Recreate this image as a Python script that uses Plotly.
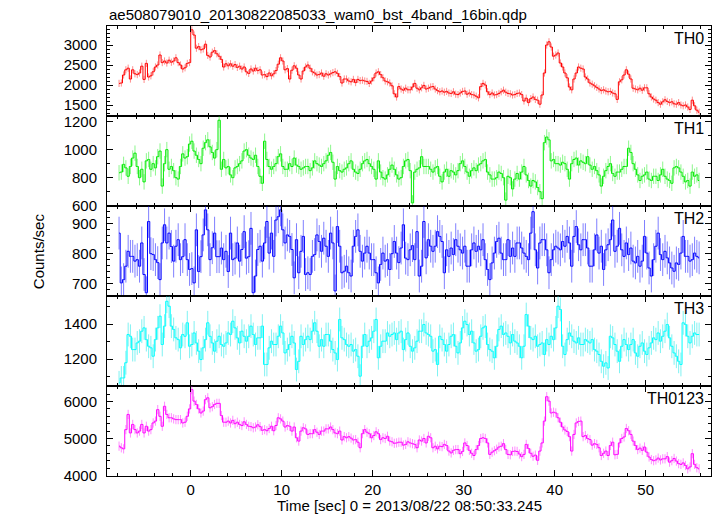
import numpy as np
import plotly.graph_objects as go

# ---------------- data ----------------
T_START = -7.875   # centre of first 0.25 s bin (sec)
BIN = 0.25         # bin width (sec)

PANEL_NAMES = ["TH0", "TH1", "TH2", "TH3", "TH0123"]

TH0 = [
    2040, 2050, 2250, 2380, 2420, 2150, 2380, 2280, 2260, 2300, 2470, 2140,
    2540, 2200, 2230, 2330, 2450, 2500, 2750, 2560, 2600, 2550, 2620, 2570,
    2600, 2680, 2560, 2500, 2400, 2430, 2540, 2560, 3380, 3250, 2920, 2960,
    2880, 2900, 3020, 2740, 2700, 2820, 2860, 2780, 2720, 2640, 2450, 2530,
    2480, 2530, 2470, 2510, 2440, 2470, 2400, 2450, 2330, 2290, 2400, 2350,
    2420, 2360, 2380, 2250, 2260, 2210, 2300, 2230, 2280, 2360, 2520, 2680,
    2600, 2380, 2410, 2150, 2370, 2480, 2420, 2250, 2150, 2350, 2450, 2500,
    2420, 2330, 2300, 2250, 2260, 2300, 2220, 2280, 2250, 2280, 2310, 2330,
    2290, 2210, 2050, 2150, 2150, 2100, 2080, 2140, 2060, 2140, 2110, 2120,
    2100, 2090, 2040, 2100, 2180, 2300, 2330, 2260, 2180, 2100, 2080, 2050,
    1980, 1780, 1700, 1960, 1900, 1870, 1920, 1880, 1880, 1950, 2040, 1920,
    1880, 1930, 1990, 1900, 1920, 1950, 1960, 1900, 1860, 1830, 1850, 1820,
    1840, 1800, 1790, 1830, 1770, 1760, 1800, 1840, 1850, 1770, 1800, 1760,
    1750, 1720, 1680, 1960, 2040, 2000, 1830, 1760, 1800, 1750, 1760, 1790,
    1830, 1870, 1820, 1790, 1780, 1750, 1760, 1790, 1800, 1760, 1600, 1670,
    1560, 1660, 1700, 1640, 1620, 1520, 1750, 2300, 3000, 3080, 2950, 2720,
    2750, 2800, 2550, 2450, 2300, 2180, 1950, 1880, 2150, 2300, 2450, 2420,
    2400, 2200, 2150, 2050, 2020, 1980, 1940, 1900, 1860, 1880, 1850, 1830,
    1840, 1800, 1780, 1640, 2080, 2130, 2250, 2380, 2270, 2150, 1920, 1900,
    1880, 1920, 1870, 1930, 1930, 1780, 1700, 1650, 1620, 1560, 1520, 1580,
    1630, 1590, 1560, 1580, 1530, 1520, 1560, 1500, 1480, 1500, 1450, 1390,
    1620, 1480, 1370, 1320,
]

TH1 = [
    835, 840, 895, 870, 810, 880, 940, 975, 880, 800, 860, 770,
    920, 930, 860, 900, 870, 950, 990, 740, 900, 1000, 860, 880,
    850, 800, 790, 880, 970, 940, 950, 1040, 1060, 990, 960, 930,
    900, 1010, 1050, 1070, 1020, 980, 940, 1000, 1210, 860, 930, 870,
    880, 820, 800, 870, 880, 900, 920, 990, 1000, 960, 940, 930,
    960, 880, 810, 760, 1060, 930, 880, 860, 880, 900, 950, 970,
    880, 860, 860, 900, 880, 940, 890, 880, 860, 870, 880, 880,
    850, 870, 920, 900, 890, 880, 900, 920, 960, 980, 910, 790,
    880, 850, 840, 860, 870, 900, 920, 860, 840, 830, 860, 900,
    920, 930, 900, 880, 860, 790, 920, 840, 800, 790, 820, 860,
    890, 860, 820, 790, 800, 880, 920, 930, 850, 620, 840, 860,
    870, 950, 880, 880, 880, 860, 840, 870, 880, 810, 770, 840,
    860, 810, 850, 840, 820, 850, 900, 920, 880, 840, 810, 850,
    870, 850, 890, 900, 920, 930, 840, 820, 790, 790, 800, 840,
    830, 800, 640, 810, 800, 720, 790, 830, 790, 840, 880, 820,
    780, 740, 780, 770, 730, 700, 650, 1050, 1090, 1070, 920, 930,
    900, 900, 890, 910, 900, 860, 790, 900, 930, 940, 890, 920,
    910, 900, 950, 890, 860, 880, 850, 820, 740, 810, 850, 880,
    900, 830, 810, 840, 840, 860, 880, 880, 1010, 980, 900, 860,
    820, 780, 810, 820, 840, 790, 780, 810, 810, 780, 820, 860,
    810, 790, 780, 760, 870, 880, 870, 840, 810, 770, 780, 740,
    840, 810, 820, 780,
]

TH2 = [
    869, 702, 713, 758, 808, 791, 791, 775, 780, 758,
    836, 730, 669, 908, 800, 797, 780, 770, 713, 836,
    897, 836, 869, 824, 775, 825, 847, 780, 790, 847,
    780, 747, 750, 702, 880, 740, 790, 863, 947, 880,
    780, 820, 869, 790, 790, 819, 780, 808, 740, 869,
    780, 785, 836, 775, 814, 874, 785, 790, 885, 669,
    725, 814, 825, 775, 836, 908, 802, 869, 791, 913,
    924, 947, 880, 836, 863, 858, 814, 719, 847, 736,
    808, 858, 730, 736, 730, 791, 797, 863, 841, 808,
    852, 825, 791, 869, 836, 675, 891, 825, 736, 741,
    758, 736, 725, 825, 858, 880, 808, 775, 802, 825,
    802, 780, 780, 736, 702, 764, 802, 775, 780, 747,
    800, 841, 802, 770, 819, 897, 785, 780,
    813, 827, 780, 874, 725, 758, 908, 786, 847, 825,
    808, 825, 874, 858, 841, 736, 813, 791, 819, 797,
    847, 825, 813, 802, 825, 758, 758, 813, 836, 808,
    825, 813, 847, 780, 747, 713, 769, 802, 841, 852,
    802, 780, 780, 847, 791, 819, 791, 836, 836, 819,
    802, 791, 780, 869, 941, 813, 752, 836, 847, 847,
    813, 736, 780, 813, 825, 819, 813, 841, 825, 858,
    836, 758, 858, 891, 830, 813, 847, 847, 819, 758,
    758, 813, 863, 802, 825, 747, 813, 830, 847, 913,
    808, 825, 885, 813, 791, 836, 797, 819, 775, 769,
    791, 758, 775, 858, 802, 752, 725, 780, 825, 869,
    797, 780, 808, 786, 769, 752, 741, 769, 764, 802,
    858, 791, 791, 775, 780, 802, 791, 786,
]

TH3 = [
    1065, 1093, 1093, 1180, 1341, 1331, 1255, 1255, 1293, 1303,
    1360, 1379, 1312, 1274, 1265, 1217, 1312, 1379, 1446, 1284,
    1389, 1531, 1503, 1389, 1370, 1322, 1312, 1265, 1341, 1331,
    1408, 1274, 1284, 1350, 1293, 1246, 1198, 1265, 1312, 1408,
    1331, 1293, 1246, 1303, 1331, 1284, 1274, 1293, 1350, 1341,
    1417, 1379, 1322, 1293, 1360, 1331, 1303, 1331, 1389, 1341,
    1284, 1322, 1322, 1389, 1170, 1170, 1265, 1303, 1284, 1284,
    1331, 1389, 1350, 1236, 1255, 1284, 1331, 1293, 1141, 1188,
    1331, 1284, 1312, 1331, 1312, 1360, 1408, 1360, 1274, 1312,
    1274, 1341, 1341, 1303, 1255, 1236, 1198, 1427, 1322, 1312,
    1284, 1274, 1284, 1246, 1255, 1217, 1103, 1274, 1341, 1274,
    1303, 1322, 1360, 1427, 1208, 1274, 1303, 1303, 1350, 1331,
    1341, 1350, 1312, 1350, 1360, 1255, 1312, 1350,
    1274, 1246, 1265, 1303, 1360, 1360, 1398, 1350, 1341, 1331,
    1246, 1255, 1170, 1331, 1312, 1284, 1246, 1284, 1331, 1341,
    1274, 1236, 1293, 1379, 1417, 1398, 1341, 1360, 1293, 1246,
    1255, 1331, 1379, 1389, 1284, 1255, 1246, 1208, 1274, 1370,
    1389, 1341, 1350, 1331, 1293, 1341, 1303, 1293, 1274, 1208,
    1274, 1455, 1389, 1322, 1312, 1331, 1274, 1284, 1293, 1227,
    1312, 1284, 1331, 1312, 1379, 1503, 1484, 1274, 1227, 1312,
    1350, 1331, 1303, 1293, 1322, 1284, 1284, 1312, 1303, 1293,
    1312, 1255, 1246, 1227, 1188, 1160, 1179, 1150, 1331, 1322,
    1284, 1246, 1188, 1274, 1312, 1284, 1255, 1284, 1312, 1236,
    1217, 1274, 1293, 1246, 1227, 1265, 1293, 1322, 1312, 1350,
    1303, 1331, 1360, 1398, 1322, 1274, 1236, 1217, 1188, 1170,
    1408, 1398, 1331, 1293, 1331, 1350, 1341, 1341,
]

TH0123 = [
    4793, 4748, 4720, 5240, 5650, 5150, 5380, 5240, 5150, 5200,
    5380, 5150, 5330, 5200, 5240, 5420, 5470, 5780, 5600, 5330,
    5870, 5650, 5560, 5560, 5530, 5510, 5510, 5510, 5420, 5440,
    5600, 5800, 6320, 6010, 5920, 5800, 5690, 5740, 6050, 6100,
    5830, 5860, 5920, 5950, 5950, 5620, 5440, 5440, 5470, 5420,
    5490, 5400, 5440, 5380, 5350, 5450, 5380, 5330, 5320, 5290,
    5310, 5370, 5320, 5220, 5240, 5210, 5270, 5330, 5210, 5350,
    5560, 5530, 5470, 5310, 5350, 5330, 5200, 5310, 5020, 4930,
    5200, 5290, 5260, 5110, 5130, 5130, 5240, 5170, 5110, 5200,
    5200, 5260, 5260, 5310, 5240, 5150, 5130, 5200, 4960, 5050,
    5020, 5050, 5010, 4960, 4970, 4900, 4750, 5130, 5240, 5170,
    5130, 5020, 5080, 5180, 5130, 4970, 5020, 5000, 5060, 4930,
    4910, 4870, 4880, 4900, 4900, 4820, 4840, 4910,
    4880, 4860, 4840, 4750, 4960, 4930, 5000, 4880, 5060, 5020,
    4750, 4790, 4720, 4790, 4780, 4840, 4810, 4660, 4610, 4680,
    4700, 4700, 4590, 4650, 4880, 4810, 4680, 4600, 4540, 4700,
    4810, 5000, 5020, 5000, 4880, 4570, 4630, 4670, 4710, 4770,
    4790, 4860, 4700, 4570, 4560, 4650, 4660, 4650, 4580, 4510,
    4570, 4840, 4730, 4600, 4520, 4550, 4410, 4660, 4880, 5470,
    6130, 6010, 5690, 5710, 5690, 5560, 5440, 5310, 5230, 5190,
    5050, 4660, 5110, 5420, 5460, 5470, 5050, 5080, 5000, 4970,
    4820, 4860, 4840, 4750, 4540, 4600, 4660, 4540, 4810, 4900,
    4560, 4570, 4880, 5000, 5040, 5270, 5210, 5110, 4930, 4810,
    4700, 4740, 4680, 4770, 4630, 4500, 4430, 4400, 4420, 4470,
    4420, 4450, 4450, 4510, 4360, 4400, 4460, 4390, 4320, 4300,
    4340, 4270, 4180, 4230, 4590, 4300, 4210, 4180,
]

# 1-sigma error (counts/sec) of each band
PANEL_ERR = [90, 55, 55, 68, 125]

# ---------------- styling ----------------
SERIES = [TH0, TH1, TH2, TH3, TH0123]
COLORS = ["rgb(255,0,0)", "rgb(0,235,0)", "rgb(0,0,255)", "rgb(0,255,255)", "rgb(255,0,255)"]
ERR_COLORS = ["rgba(255,0,0,0.45)", "rgba(0,235,0,0.45)", "rgba(0,0,255,0.5)",
              "rgba(0,230,230,0.5)", "rgba(255,0,255,0.45)"]
Y_RANGES = [[1225, 3475], [598, 1240], [658, 960], [1047, 1561], [3986, 6419]]
Y_DTICK = [500, 200, 100, 200, 1000]
Y_MINOR = [100, 100, 20, 100, 200]

FONT = "Liberation Sans, Arial, Helvetica, sans-serif"

fig = go.Figure()
n_pan = len(SERIES)
for i, (vals, col, ecol, err) in enumerate(zip(SERIES, COLORS, ERR_COLORS, PANEL_ERR)):
    t = T_START + BIN * np.arange(len(vals))
    k = "" if i == 0 else str(i + 1)
    fig.add_trace(go.Scatter(
        x=t, y=vals, mode="lines",
        line=dict(shape="hvh", width=1, color=col),
        error_y=dict(type="constant", value=err, visible=True, thickness=1, width=0, color=ecol),
        xaxis="x" + k, yaxis="y" + k, showlegend=False, hoverinfo="skip",
    ))

axis_common = dict(
    showline=True, linecolor="black", linewidth=1, mirror="allticks",
    ticks="inside", ticklen=6, tickwidth=1, tickcolor="black",
    showgrid=False, zeroline=False,
    tickfont=dict(family=FONT, size=15, color="black"),
)

layout = dict(
    width=717, height=516,
    paper_bgcolor="white", plot_bgcolor="white",
    margin=dict(l=107, r=6, t=26, b=40),
    font=dict(family=FONT, size=15, color="black"),
    showlegend=False,
)
for i in range(n_pan):
    k = "" if i == 0 else str(i + 1)
    top = 1 - i / n_pan
    bot = 1 - (i + 1) / n_pan
    xa = dict(axis_common)
    xa.update(
        domain=[0, 1], anchor="y" + k, range=[-9.2, 57.18],
        tick0=0, dtick=10,
        minor=dict(ticks="inside", ticklen=3, dtick=2, tick0=0, tickcolor="black", showgrid=False),
        showticklabels=(i == n_pan - 1),
        ticklabelstandoff=0,
    )
    if i > 0:
        xa["matches"] = "x"
    ya = dict(axis_common)
    ya.update(
        domain=[bot, top], anchor="x" + k, range=Y_RANGES[i],
        tick0=0, dtick=Y_DTICK[i],
        minor=dict(ticks="inside", ticklen=3, dtick=Y_MINOR[i], tick0=0, tickcolor="black", showgrid=False),
        ticklabelstandoff=6,
    )
    layout["xaxis" + k] = xa
    layout["yaxis" + k] = ya

annotations = [
    dict(text="ae508079010_20130822085033_wam0_bst_4band_16bin.qdp", xref="paper", yref="paper",
         x=0, y=1, xanchor="left", yanchor="bottom", yshift=1, showarrow=False,
         font=dict(family=FONT, size=15, color="black")),
    dict(text="Counts/sec", xref="paper", yref="paper", x=-0.114, y=0.5, textangle=-90,
         xanchor="center", yanchor="middle", showarrow=False,
         font=dict(family=FONT, size=15, color="black")),
    dict(text="Time [sec] 0 = 2013/08/22 08:50:33.245", xref="paper", yref="paper",
         x=0.5, y=0, xanchor="center", yanchor="middle", yshift=-29.5, showarrow=False,
         font=dict(family=FONT, size=15, color="black")),
]
for i, name in enumerate(PANEL_NAMES):
    top = 1 - i / n_pan
    annotations.append(dict(
        text=name, xref="paper", yref="paper", x=1, y=top, xanchor="right", yanchor="top",
        xshift=-5, yshift=-2, showarrow=False, font=dict(family=FONT, size=16, color="black")))
layout["annotations"] = annotations

fig.update_layout(**layout)
fig.write_html("out.html", config={"displayModeBar": False},
               post_script="document.body.style.margin='0px';")
